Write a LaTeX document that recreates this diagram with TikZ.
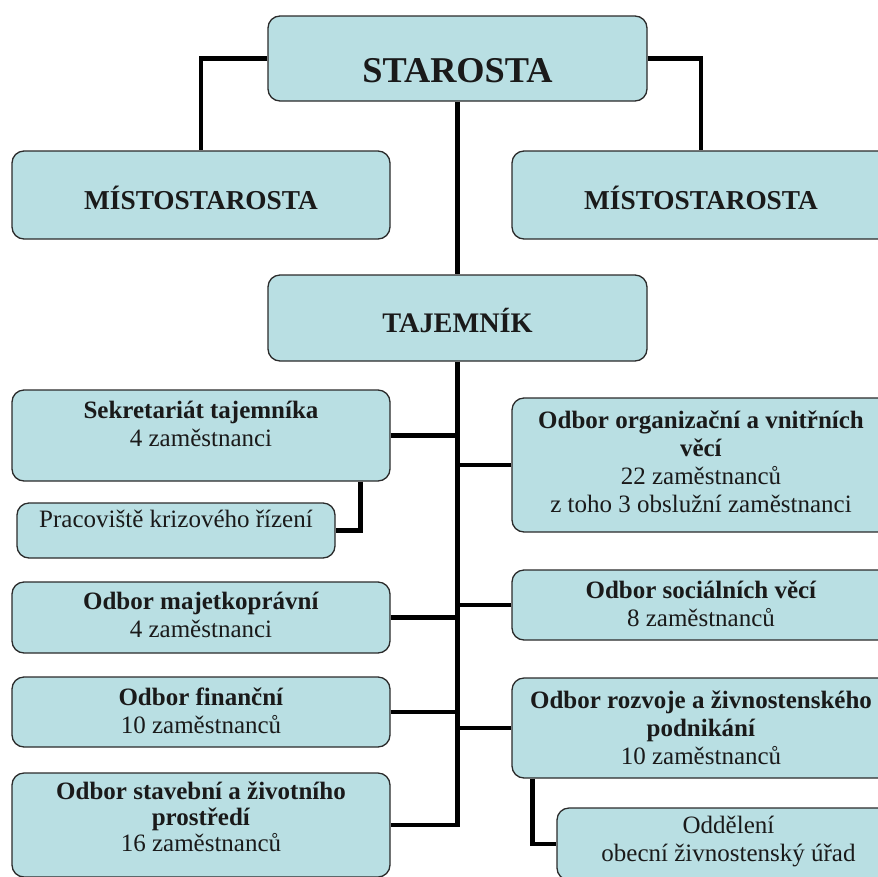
\documentclass[tikz,border=0pt]{standalone}
\usepackage{fontspec}
\setmainfont{Liberation Serif}
\definecolor{boxfill}{HTML}{B9DFE3}
\definecolor{boxline}{HTML}{2B2B2B}
\definecolor{txtcol}{HTML}{1A1A1A}
\newcommand\tx[2]{\raisebox{\dimexpr -#1pt - 0.35em\relax}[0pt][0pt]{\begin{tabular}{@{}c@{}}#2\end{tabular}}}
\begin{document}
\begin{tikzpicture}[x=1pt,y=-1pt,
  box/.style={draw=boxline, line width=1.3pt, fill=boxfill, rounded corners=12pt,
              inner sep=0pt, text=txtcol},
  conn/.style={line width=4.8pt, draw=black},
  body/.style={font=\fontsize{25}{28}\selectfont},
  head/.style={font=\fontsize{27.3}{32}\selectfont\bfseries},
]
\useasboundingbox (0,0) rectangle (878,876);

% top level
\node[box, minimum width=379pt, minimum height=85pt, font=\fontsize{36.3}{43}\selectfont\bfseries]
  (star) at (457.5,58.5) {\tx{9}{STAROSTA}};
\node[box, head, minimum width=378pt, minimum height=88pt] (mistL) at (201,195) {\tx{4}{MÍSTOSTAROSTA}};
\node[box, head, minimum width=378pt, minimum height=88pt] (mistR) at (701,195) {\tx{4}{MÍSTOSTAROSTA}};
\node[box, minimum width=379pt, minimum height=86pt, font=\fontsize{28.3}{34}\selectfont\bfseries]
  (taj) at (457.5,318) {\tx{4}{TAJEMNÍK}};

% left column
\node[box, body, minimum width=378pt, minimum height=91pt] (sek) at (201,435.5)
  {\tx{-11.5}{\textbf{Sekretariát tajemníka}\\4 zaměstnanci}};
\node[box, body, minimum width=318pt, minimum height=55pt] (prac) at (176,530.5)
  {\tx{-11}{Pracoviště krizového řízení}};
\node[box, body, minimum width=378pt, minimum height=71pt] (maj) at (201,617.5)
  {\tx{-2.5}{\textbf{Odbor majetkoprávní}\\4 zaměstnanci}};
\node[box, body, minimum width=378pt, minimum height=70pt] (fin) at (201,712)
  {\tx{-1}{\textbf{Odbor finanční}\\10 zaměstnanců}};
\node[box, minimum width=378pt, minimum height=104pt, font=\fontsize{25}{26}\selectfont] (stav) at (201,825)
  {\tx{-7.5}{\textbf{Odbor stavební a životního}\\\textbf{prostředí}\\16 zaměstnanců}};

% right column
\node[box, body, minimum width=378pt, minimum height=134pt] (org) at (701,465)
  {\tx{-2.5}{\textbf{Odbor organizační a vnitřních}\\\textbf{věcí}\\22 zaměstnanců\\z toho 3 obslužní zaměstnanci}};
\node[box, body, minimum width=378pt, minimum height=70pt] (soc) at (701,605)
  {\tx{-1}{\textbf{Odbor sociálních věcí}\\8 zaměstnanců}};
\node[box, body, minimum width=378pt, minimum height=100pt] (roz) at (701,728)
  {\tx{0}{\textbf{Odbor rozvoje a živnostenského}\\\textbf{podnikání}\\10 zaměstnanců}};
\node[box, body, minimum width=343pt, minimum height=72pt] (odd) at (728.5,844)
  {\tx{-4.5}{Oddělení\\obecní živnostenský úřad}};

% connectors
\draw[conn] (star.west) -| (mistL.north);
\draw[conn] (star.east) -| (mistR.north);
\draw[conn] (star.south) -- (taj.north);
\draw[conn] (taj.south) |- (stav.east);
\draw[conn] (sek.east) -- (sek.east -| taj.south);
\draw[conn] (maj.east) -- (maj.east -| taj.south);
\draw[conn] (fin.east) -- (fin.east -| taj.south);
\draw[conn] (org.west) -- (org.west -| taj.south);
\draw[conn] (soc.west) -- (soc.west -| taj.south);
\draw[conn] (roz.west) -- (roz.west -| taj.south);
\draw[conn] ([xshift=-30pt]sek.south east) |- (prac.east);
\draw[conn] ([xshift=21pt]roz.south west) |- (odd.west);
\end{tikzpicture}
\end{document}
